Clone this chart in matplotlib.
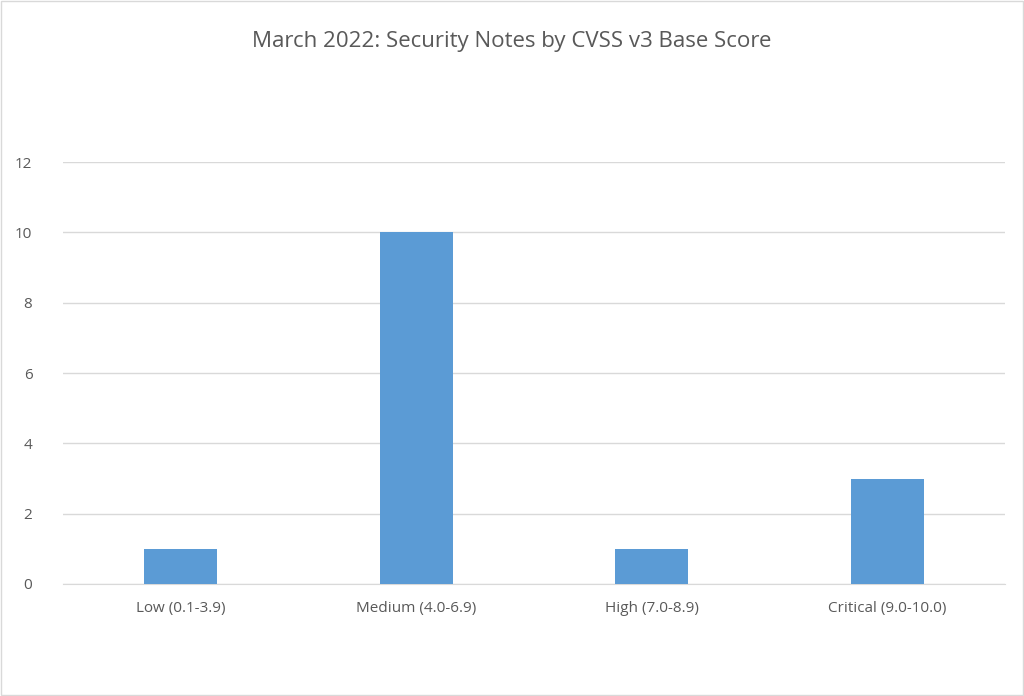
import matplotlib.pyplot as plt
from matplotlib.patches import Rectangle

categories = ["Low (0.1-3.9)", "Medium (4.0-6.9)", "High (7.0-8.9)", "Critical (9.0-10.0)"]
counts = [1, 10, 1, 3]
y_ticks = [0, 2, 4, 6, 8, 10, 12]

plt.rcParams["font.family"] = "Open Sans"
fig = plt.figure(figsize=(10.24, 6.96), dpi=100)
ax = fig.add_axes([0.0615, 0.161, 0.92, 0.606])

x = range(len(categories))
ax.bar(x, counts, width=0.31, color="#5B9BD5", zorder=3)
ax.set_xlim(-0.5, len(categories) - 0.5)
ax.set_ylim(0, 12)
ax.set_yticks(y_ticks)
ax.set_xticks(list(x))
ax.set_xticklabels(categories)
ax.grid(axis="y", color="#D9D9D9", linewidth=1, zorder=0)
for s in ["top", "right", "left"]:
    ax.spines[s].set_visible(False)
ax.spines["bottom"].set_color("#D9D9D9")
ax.tick_params(length=0, colors="#595959", labelsize=11)
ax.tick_params(axis="y", pad=22)
ax.tick_params(axis="x", pad=12)

fig.text(0.5, 0.94, "March 2022: Security Notes by CVSS v3 Base Score",
         ha="center", va="center", fontsize=16, color="#595959")
fig.patches.append(Rectangle((0.001, 0.001), 0.998, 0.998, transform=fig.transFigure,
                             fill=False, edgecolor="#D9D9D9", linewidth=1))
fig.savefig("out.png", dpi=100)
